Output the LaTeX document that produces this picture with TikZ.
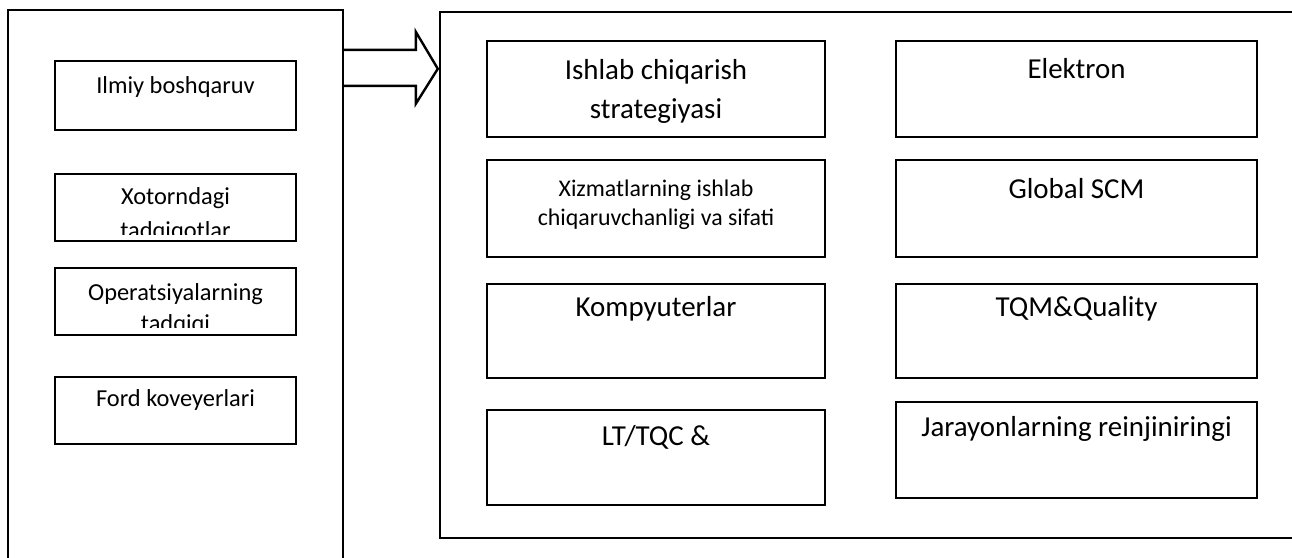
\documentclass[tikz,border=0pt]{standalone}
\usepackage{fontspec}
\setmainfont{Carlito}
\usetikzlibrary{fit,calc}
\begin{document}
\begin{tikzpicture}[x=0.75pt,y=-0.75pt,
  frame/.style={draw=black, line width=1.8pt, inner sep=0pt},
  item/.style={draw=black, line width=1.8pt, inner sep=0pt},
  lefttext/.style={anchor=base, inner sep=0pt, font=\fontsize{18.3}{22}\selectfont},
  bigtext/.style={anchor=base, inner sep=0pt, font=\fontsize{21.7}{26}\selectfont},
  smalltext/.style={anchor=base, inner sep=0pt, font=\fontsize{17.9}{21}\selectfont},
  arrowline/.style={draw=black, line width=1.8pt, line join=miter}
]
\useasboundingbox (0,0) rectangle (1292,557);
\clip (0,0) rectangle (1292,557);

% outer frames (both run past the page edge)
\node[frame, fit={(8,10)(343,620)}] (past) {};
\node[frame, fit={(440,12)(1340,538)}] (modern) {};

% left column
\node[item, fit={(55,61)(296,130)}] (ilmiy) {};
\node[item, fit={(55,174)(296,241)}] (xotor) {};
\node[item, fit={(55,268)(296,335)}] (oper) {};
\node[item, fit={(55,377)(296,444)}] (ford) {};

\node[lefttext] at ($(ilmiy.north)+(0,34)$) {Ilmiy boshqaruv};
\begin{scope}
  \clip (xotor.north west) rectangle ($(xotor.south east)+(0,-8)$);
  \node[lefttext] at ($(xotor.north)+(0,32)$) {Xotorndagi};
  \node[lefttext] at ($(xotor.north)+(0,66)$) {tadqiqotlar};
\end{scope}
\begin{scope}
  \clip (oper.north west) rectangle ($(oper.south east)+(0,-9)$);
  \node[lefttext] at ($(oper.north)+(0,34)$) {Operatsiyalarning};
  \node[lefttext] at ($(oper.north)+(0,65)$) {tadqiqi};
\end{scope}
\node[lefttext] at ($(ford.north)+(0,31)$) {Ford koveyerlari};

% right grid
\node[item, fit={(487,41)(825,137)}] (ishlab) {};
\node[item, fit={(487,160)(825,257)}] (xizmat) {};
\node[item, fit={(487,284)(825,378)}] (komp) {};
\node[item, fit={(487,410)(825,505)}] (lt) {};
\node[item, fit={(896,41)(1257,137)}] (elek) {};
\node[item, fit={(896,160)(1257,257)}] (scm) {};
\node[item, fit={(896,284)(1257,378)}] (tqm) {};
\node[item, fit={(896,402)(1257,498)}] (jar) {};

\node[bigtext] at ($(ishlab.north)+(0,40)$) {Ishlab chiqarish};
\node[bigtext] at ($(ishlab.north)+(0,79)$) {strategiyasi};
\node[smalltext] at ($(xizmat.north)+(0,38)$) {Xizmatlarning ishlab};
\node[smalltext] at ($(xizmat.north)+(0,67)$) {chiqaruvchanligi va sifati};
\node[bigtext] at ($(komp.north)+(0,34)$) {Kompyuterlar};
\node[bigtext] at ($(lt.north)+(0,37)$) {LT/TQC \&};
\node[bigtext] at ($(elek.north)+(0,39)$) {Elektron};
\node[bigtext] at ($(scm.north)+(0,40)$) {Global SCM};
\node[bigtext] at ($(tqm.north)+(0,34)$) {TQM\&Quality};
\node[bigtext] at ($(jar.north)+(0,36)$) {Jarayonlarning reinjiniringi};

% block arrow from the left frame to the right frame
\coordinate (shaftA) at ($(past.north east)+(0,41)$);
\coordinate (shaftB) at ($(past.north east)+(0,77)$);
\coordinate (tip) at ($(modern.north west)+(-1,58)$);
\draw[arrowline] (shaftA) -- ($(tip)+(-22,-19)$) -- ($(tip)+(-22,-37)$)
  -- (tip) -- ($(tip)+(-22,35)$) -- ($(tip)+(-22,17)$) -- (shaftB);
\end{tikzpicture}
\end{document}
